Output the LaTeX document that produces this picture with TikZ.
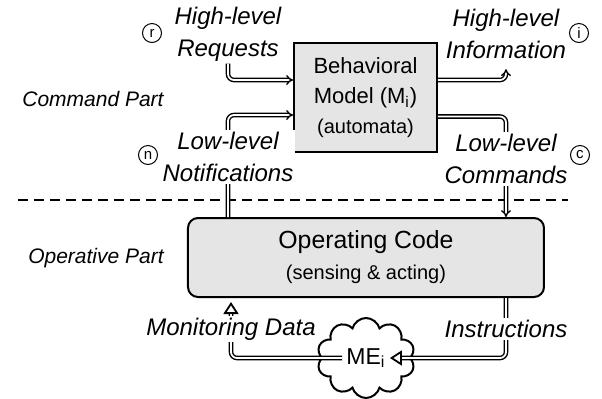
\documentclass[tikz,border=0pt]{standalone}
\usepackage{fontspec}
\setmainfont{Liberation Sans}
\usetikzlibrary{arrows.meta,shapes.symbols}
\begin{document}
\begin{tikzpicture}[x=0.5pt,y=-0.5pt,
  lbl/.style={font=\fontsize{12}{16}\selectfont\itshape, align=center, fill=white, inner sep=1pt},
  part/.style={font=\fontsize{10.5}{12}\selectfont\itshape},
  link/.style={draw, double, double distance=0.9pt, line width=0.7pt, rounded corners=3pt},
  opentip/.style={-{Triangle[fill=white,length=6pt,width=7.5pt,line width=0.9pt]}},
  tag/.style={draw, circle, line width=0.5pt, inner sep=0pt, minimum size=9.5pt, font=\fontsize{7.5}{7.5}\selectfont},
  box/.style={draw, line width=1pt, fill=gray!20, align=center}]
\useasboundingbox (0,0) rectangle (602,398);
% separator between the two parts
\draw[line width=1pt, dash pattern=on 5pt off 3pt] (18,200) -- (568,200);
% boxes
\node[box, minimum width=71.5pt, minimum height=54.5pt, font=\fontsize{11}{15}\selectfont] (1) at (365.5,97.5) {Behavioral\\Model (M\textsubscript{i})\\{\fontsize{10}{12}\selectfont(automata)}};
\node[box, rounded corners=5pt, minimum width=178pt, minimum height=39.5pt, font=\fontsize{12.4}{15.5}\selectfont] (2) at (366,257.5) {Operating Code\\{\fontsize{10}{12}\selectfont(sensing \& acting)}};
\node[cloud, cloud puffs=10, aspect=1.2, draw, line width=1pt, fill=white, minimum width=49pt, minimum height=40pt] (3) at (366,358) {};
\node[font=\fontsize{11.5}{12}\selectfont, inner sep=2pt] (4) at (366,358) {ME\textsubscript{i}};
% labels
\node[lbl] (5) at (228,34) {High-level\\Requests};
\node[lbl] (6) at (228,157) {Low-level\\Notifications};
\node[lbl] (7) at (506,34) {High-level\\Information};
\node[lbl] (8) at (506,159) {Low-level\\Commands};
\node[lbl] (9) at (231,329) {Monitoring Data};
\node[lbl] (10) at (506,329) {Instructions};
% connectors
\path[link,-{Implies}] (5.south) |- ([yshift=8.75pt]1.west);
\path[link,-{Implies}] (2.north -| 6.south) |- ([yshift=-8.75pt]1.west);
\path[link,-{Implies},shorten >=4pt] ([yshift=8.75pt]1.east) -| (7.south);
\path[link,-{Implies}] ([yshift=-9.5pt]1.east) -| (2.north -| 8.south);
\path[link,opentip] (2.south -| 10.north) |- (4.east);
\path[link,opentip,shorten >=2pt] (4.west) -| (2.south -| 9.north);
% labels again on top of the lines
\node[lbl] at (5) {High-level\\Requests};
\node[lbl] at (6) {Low-level\\Notifications};
\node[lbl] at (7) {High-level\\Information};
\node[lbl] at (8) {Low-level\\Commands};
\node[lbl] at (9) {Monitoring Data};
\node[lbl] at (10) {Instructions};
\node[part] (11) at (93,99) {Command Part};
\node[part] (12) at (96,258) {Operative Part};
% small tags
\node[tag] (13) at (152,33) {r};
\node[tag] (14) at (148,155) {n};
\node[tag] (15) at (579,33) {i};
\node[tag] (16) at (580,155) {c};
\end{tikzpicture}
\end{document}
